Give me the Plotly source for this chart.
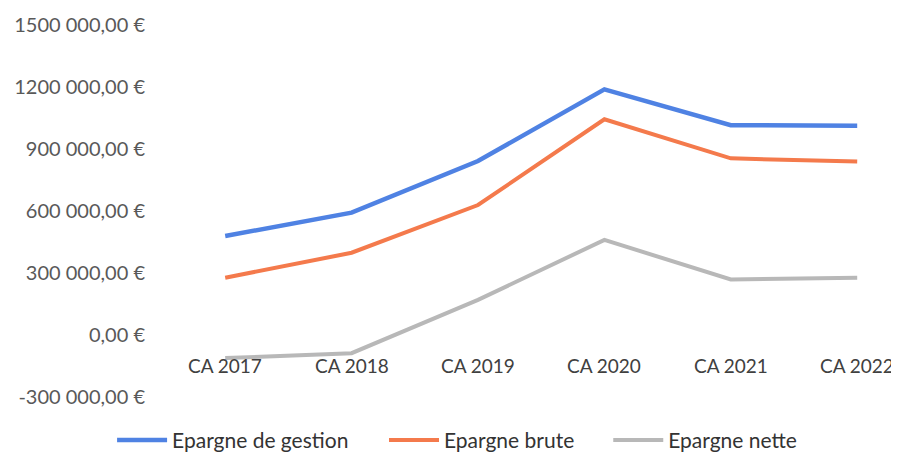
import plotly.graph_objects as go

categories = ["CA 2017", "CA 2018", "CA 2019", "CA 2020", "CA 2021", "CA 2022"]
epargne_gestion = [479000, 592000, 842000, 1189000, 1015000, 1013000]
epargne_brute = [277000, 398000, 629000, 1044000, 855000, 839000]
epargne_nette = [-112000, -88000, 170000, 460000, 269000, 277000]

tick_vals = [-300000, 0, 300000, 600000, 900000, 1200000, 1500000]
tick_text = ["-300 000,00 €", "0,00 €", "300 000,00 €", "600 000,00 €",
             "900 000,00 €", "1200 000,00 €", "1500 000,00 €"]

FONT = "Lato"
xs = list(range(len(categories)))

fig = go.Figure()
fig.add_trace(go.Scatter(x=xs, y=epargne_gestion, mode="lines", name="Epargne de gestion",
                         line=dict(color="#4F82E3", width=4.5), legend="legend"))
fig.add_trace(go.Scatter(x=xs, y=epargne_brute, mode="lines", name="Epargne brute",
                         line=dict(color="#F47A4C", width=4), legend="legend2"))
fig.add_trace(go.Scatter(x=xs, y=epargne_nette, mode="lines", name="Epargne nette",
                         line=dict(color="#B8B8B8", width=4), legend="legend3"))

for i, c in enumerate(categories):
    fig.add_annotation(x=i, y=0, text=c, showarrow=False, xref="x", yref="y",
                       yanchor="top", yshift=-17,
                       font=dict(family=FONT, size=19, color="#404040"))

legend_common = dict(orientation="h", xanchor="left", xref="paper",
                     y=-0.113, yanchor="middle",
                     font=dict(family=FONT, size=21, color="#333333"),
                     itemwidth=50, bgcolor="rgba(0,0,0,0)")

fig.update_layout(
    width=899, height=455,
    margin=dict(l=154, r=0, t=16, b=65, autoexpand=False),
    paper_bgcolor="white", plot_bgcolor="white",
    font=dict(family=FONT, size=19, color="#595959"),
    showlegend=True,
    legend=dict(x=-0.067, **legend_common),
    legend2=dict(x=0.298, **legend_common),
    legend3=dict(x=0.599, **legend_common),
    xaxis=dict(range=[-0.5, 5.394], showticklabels=False, showgrid=False,
               zeroline=False, showline=False, ticks=""),
    yaxis=dict(range=[-305000, 1505000], tickvals=tick_vals, ticktext=tick_text,
               showgrid=False, zeroline=False, showline=False, ticks="",
               ticklabelstandoff=16,
               tickfont=dict(family=FONT, size=20, color="#595959")),
)

fig.write_html("out.html")
